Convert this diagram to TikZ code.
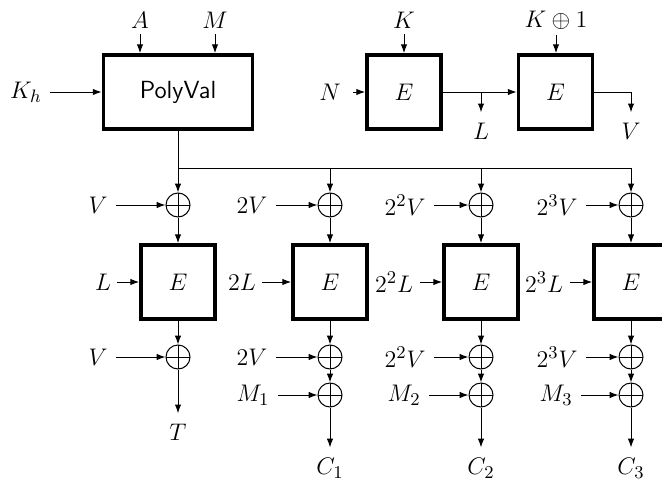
\documentclass[tikz,border=0pt]{standalone}
\usetikzlibrary{arrows.meta,calc}
\begin{document}
\begin{tikzpicture}[x=0.5pt,y=-0.5pt,font=\fontsize{12.4}{14}\selectfont,line width=0.5pt,
  blk/.style={draw,line width=1.8pt,minimum width=37pt,minimum height=37pt,inner sep=0pt},
  xor/.style={draw,circle,minimum size=12pt,inner sep=0pt,
    path picture={\draw (path picture bounding box.north)--(path picture bounding box.south)
      (path picture bounding box.west)--(path picture bounding box.east);}},
  arr/.style={-{Latex[length=4.4pt,width=3.2pt]}},
  lbl/.style={inner xsep=4pt,inner ysep=2.5pt},
  lblb/.style={inner xsep=4pt,inner ysep=5pt}]
\useasboundingbox (0,0) rectangle (662,481);

% top left
\node[blk,minimum width=74.5pt] (poly) at (178,92) {\textsf{PolyVal}};
\node[lbl] (A) at (140,20) {$A$};
\node[lbl] (M) at (215,20) {$M$};
\node[lbl] (Kh) at (26,92) {$K_h$};
\draw[arr] (A) -- (A |- poly.north);
\draw[arr] (M) -- (M |- poly.north);
\draw[arr] (Kh) -- (poly.west);

% top right
\node[blk] (e1) at (404,92) {$E$};
\node[blk] (e2) at (555.5,92) {$E$};
\node[lbl] (K) at (404,20) {$K$};
\node[lbl] (K1) at (556,20) {$K\oplus 1$};
\node[lbl,inner xsep=6pt] (N) at (330,92) {$N$};
\draw[arr] (K) -- (e1.north);
\draw[arr] (K1) -- (K1 |- e2.north);
\draw[arr] (N) -- (e1.west);
\draw[arr] (e1.east) -- (e2.west);
\coordinate (b1) at (481,92);
\coordinate (b2) at (631,92);
\node[lblb] (Lt) at (481,131) {$L$};
\node[lblb] (Vt) at (631,131) {$V$};
\draw[arr] (b1) -- (Lt);
\draw[arr] (e2.east) -- (b2) -- (Vt);

% distribution line
\coordinate (j1) at (178,168);
\coordinate (j2) at (330,168);
\coordinate (j3) at (481,168);
\coordinate (j4) at (631,168);
\draw (poly.south) -- (j1) -- (j4);

% columns
\foreach \c/\x in {1/178,2/330,3/481,4/631}{
  \node[xor] (xa\c) at (\x,205) {};
  \node[blk] (E\c) at (\x,282) {$E$};
  \node[xor] (xb\c) at (\x,357) {};
  \draw[arr] (j\c) -- (xa\c);
  \draw[arr] (xa\c) -- (E\c);
  \draw[arr] (E\c) -- (xb\c);
}
\foreach \c in {2,3,4}{
  \node[xor] (xc\c) at (xb\c |- 0,395) {};
  \draw[arr] (xb\c) -- (xc\c);
}

% labels first xor row
\node[lbl] (va1) at (98,205) {$V$};
\node[lbl] (va2) at (252,205) {$2V$};
\node[lbl] (va3) at (405,205) {$2^2V$};
\node[lbl] (va4) at (557,205) {$2^3V$};
% L row
\node[lbl,inner xsep=3pt] (l1) at (103,282) {$L$};
\node[lbl,inner xsep=3pt] (l2) at (242,282) {$2L$};
\node[lbl,inner xsep=3pt] (l3) at (394,282) {$2^2L$};
\node[lbl,inner xsep=3pt] (l4) at (544,282) {$2^3L$};
% second xor row
\node[lbl] (vb1) at (98,357) {$V$};
\node[lbl] (vb2) at (252,357) {$2V$};
\node[lbl] (vb3) at (405,357) {$2^2V$};
\node[lbl] (vb4) at (557,357) {$2^3V$};
% M row
\node[lbl] (m2) at (253,395) {$M_1$};
\node[lbl] (m3) at (404,395) {$M_2$};
\node[lbl] (m4) at (556,395) {$M_3$};

\foreach \c in {1,2,3,4}{
  \draw[arr] (va\c) -- (xa\c);
  \draw[arr] (l\c) -- (E\c);
  \draw[arr] (vb\c) -- (xb\c);
}
\foreach \c in {2,3,4}{
  \draw[arr] (m\c) -- (xc\c);
}

% outputs
\node[lblb] (T) at (178,432) {$T$};
\draw[arr] (xb1) -- (T);
\node[lblb] (C1) at (330,468) {$C_1$};
\node[lblb] (C2) at (481,468) {$C_2$};
\node[lblb] (C3) at (631,468) {$C_3$};
\draw[arr] (xc2) -- (C1);
\draw[arr] (xc3) -- (C2);
\draw[arr] (xc4) -- (C3);
\end{tikzpicture}
\end{document}
